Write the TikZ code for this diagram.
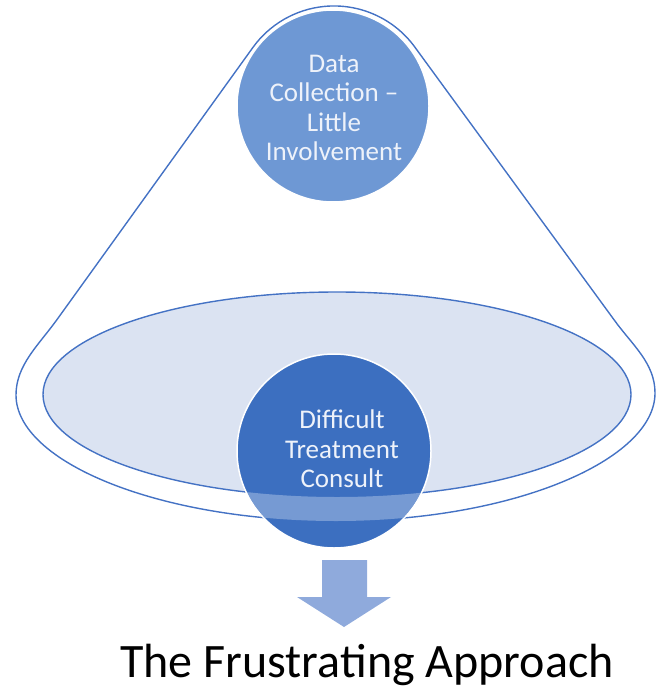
\documentclass[tikz,border=0pt]{standalone}
\usepackage{fontspec}
\setmainfont{Carlito}
\definecolor{edge}{RGB}{68,114,196}
\definecolor{lightfill}{RGB}{219,227,242}
\definecolor{topblue}{RGB}{110,152,212}
\definecolor{darkblue}{RGB}{60,111,192}
\definecolor{arrowblue}{RGB}{143,170,220}
\definecolor{softwhite}{RGB}{238,242,250}

% outline of the funnel (pixel units, y pointing down)
\newcommand{\funnelpath}{(252.8,47.6) -- (56.7,320) .. controls (38.7,345) and (16,365) .. (16,395)
	.. controls (16,462) and (159,521) .. (336,521) .. controls (513,521) and (655,460) .. (655,393)
	.. controls (655,363) and (632.2,345) .. (614.2,320) -- (415.2,47.6)
	arc[start angle=324.3, end angle=215.7, radius=100] -- cycle}

\begin{document}
\begin{tikzpicture}[x=1pt, y=-1pt,
	circtext/.style={text=softwhite, align=center, font=\fontsize{27}{29.5}\selectfont},
	outline/.style={draw=edge, line width=1.4pt}]
	
	\useasboundingbox (0,0) rectangle (659,687);
	
	\draw[outline] \funnelpath;
	\filldraw[fill=lightfill, outline] (337,394.5) ellipse[x radius=294, y radius=102.5];
	
	% bottom circle with the lighter band
	\filldraw[fill=darkblue, draw=white, line width=1.5pt] (334,451) circle[radius=97];
	\begin{scope}
		\clip (334,451) circle[radius=96];
		\fill[white, opacity=.3, even odd rule] \funnelpath (337,394.5) ellipse[x radius=294, y radius=102.5];
	\end{scope}
	
	% top circle
	\filldraw[fill=topblue, draw=white, line width=1.5pt] (333,106) circle[radius=96];
	
	\node[circtext] (collect) at (334,108) {Data\\Collection --\\Little\\Involvement};
	\node[circtext] (consult) at (342,449) {Difficult\\Treatment\\Consult};
	
	% arrow down
	\fill[arrowblue] (322,560) -- (367,560) -- (367,597) -- (391,597) -- (344,627) -- (297,597) -- (322,597) -- cycle;
	
	\node[font=\fontsize{48}{56}\selectfont, anchor=base] (title) at (367,677) {The Frustrating Approach};
\end{tikzpicture}
\end{document}
